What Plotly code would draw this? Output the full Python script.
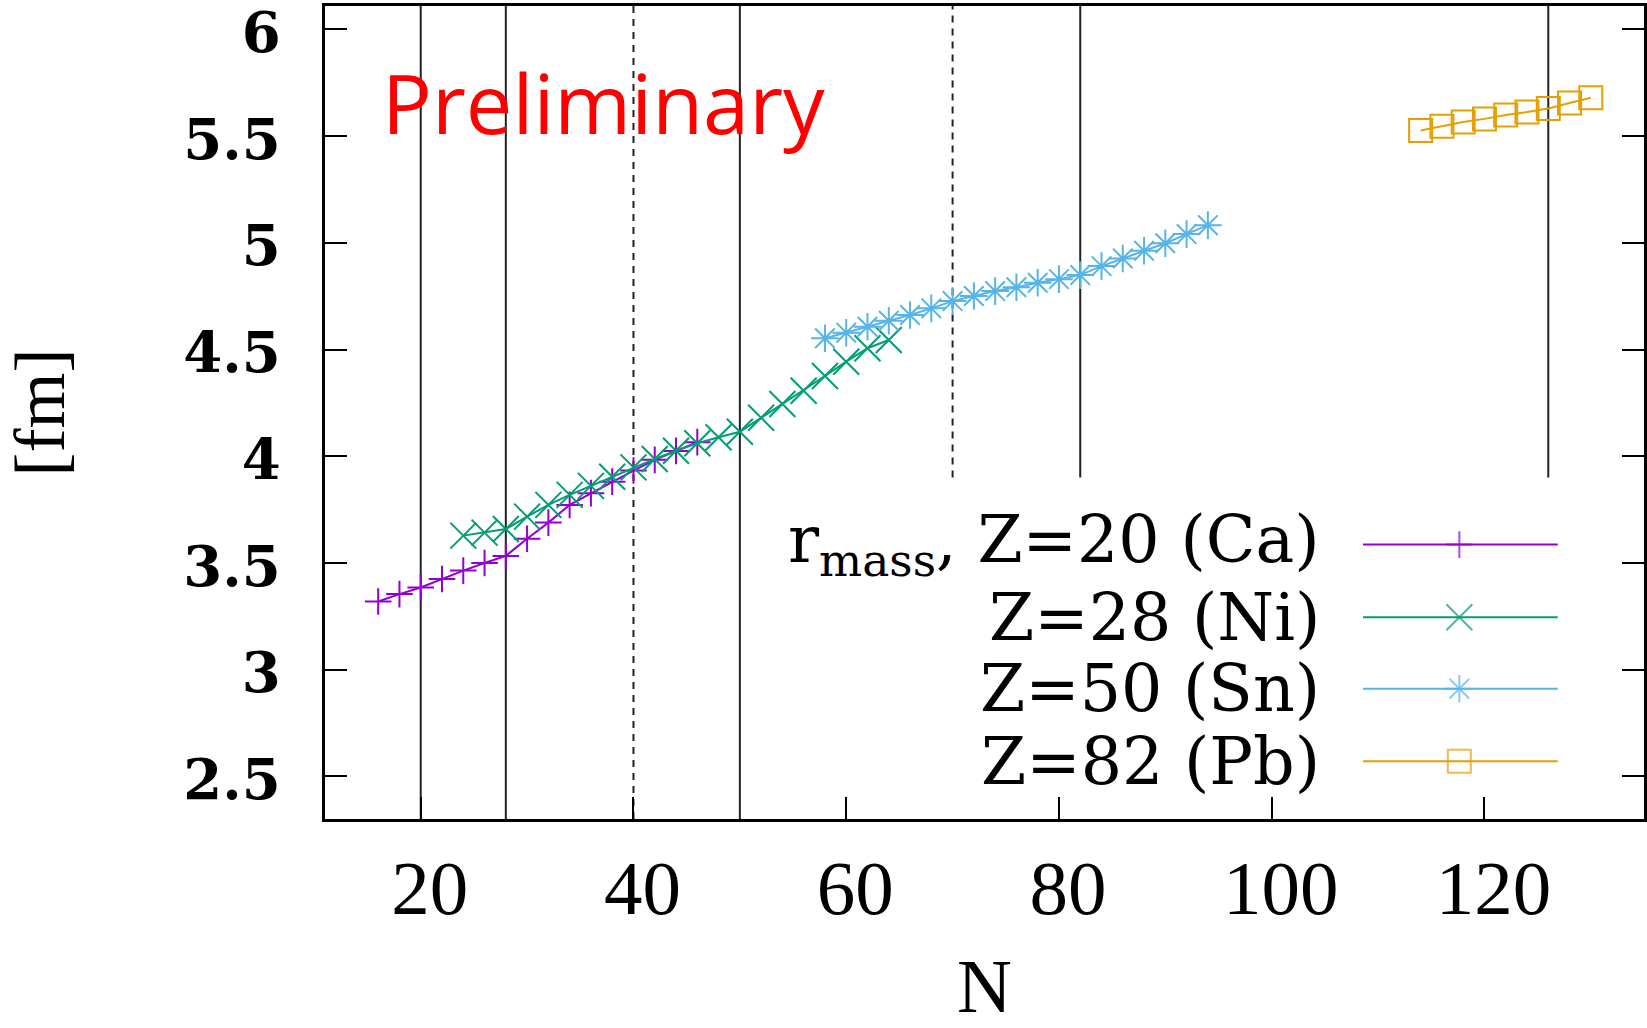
import plotly.graph_objects as go

# ---------------- data ----------------
N_CA = [16, 18, 20, 22, 24, 26, 28, 30, 32, 34, 36, 38, 40, 42, 44, 46]
R_CA = [3.319, 3.354, 3.385, 3.425, 3.464, 3.500, 3.533, 3.613, 3.689, 3.772,
        3.827, 3.881, 3.933, 3.983, 4.025, 4.066]

N_NI = [24, 26, 28, 30, 32, 34, 36, 38, 40, 42, 44, 46, 48, 50, 52, 54, 56, 58,
        60, 62, 64]
R_NI = [3.628, 3.642, 3.659, 3.717, 3.772, 3.819, 3.861, 3.904, 3.948, 3.987,
        4.026, 4.061, 4.089, 4.115, 4.180, 4.245, 4.307, 4.376, 4.443, 4.506,
        4.545]

N_SN = [58, 60, 62, 64, 66, 68, 70, 72, 74, 76, 78, 80, 82, 84, 86, 88, 90, 92, 94]
R_SN = [4.553, 4.579, 4.607, 4.635, 4.662, 4.693, 4.727, 4.751, 4.774, 4.792,
        4.813, 4.830, 4.849, 4.891, 4.927, 4.963, 4.998, 5.041, 5.083]

N_PB = [114, 116, 118, 120, 122, 124, 126, 128, 130]
R_PB = [5.527, 5.546, 5.566, 5.581, 5.599, 5.613, 5.630, 5.655, 5.680]

SERIES_NAMES = ["r<sub>mass</sub>, Z=20 (Ca)", "Z=28 (Ni)", "Z=50 (Sn)", "Z=82 (Pb)"]

X_TICKS = [20, 40, 60, 80, 100, 120]
X_TICK_LABELS = ["20", "40", "60", "80", "100", "120"]
Y_TICKS = [2.5, 3, 3.5, 4, 4.5, 5, 5.5, 6]
Y_TICK_LABELS = ["2.5", "3", "3.5", "4", "4.5", "5", "5.5", "6"]

MAGIC_FULL = [20, 28, 50]       # solid lines, full height
MAGIC_PART = [82, 126]          # solid lines, stopping above the key
DASHED_FULL = [40]
DASHED_PART = [70]

# ---------------- style ----------------
X_RANGE = [11, 135]
Y_RANGE = [2.3, 6.11]
PART_LINE_BOTTOM = 3.9

COLORS = ["#9400D3", "#009E73", "#56B4E9", "#E69F00"]
SYMBOLS = ["cross-thin", "x-thin", "asterisk", "square-open"]
SIZES = [19, 26, 23, 23]

xs = [N_CA, N_NI, N_SN, N_PB]
ys = [R_CA, R_NI, R_SN, R_PB]

fig = go.Figure()
for x, y, c, s, sz, name in zip(xs, ys, COLORS, SYMBOLS, SIZES, SERIES_NAMES):
    fig.add_trace(go.Scatter(
        x=x, y=y, mode="lines+markers", name=name, showlegend=False,
        line=dict(color=c, width=2),
        marker=dict(symbol=s, size=sz, color=c, line=dict(color=c, width=2)),
    ))

# manual key (symbols on the right of the text, as in the original)
KEY_X = [0.787, 0.860, 0.9346]
KEY_Y = [0.3375, 0.2482, 0.1603, 0.0710]
TEXT_X = 0.756
for c, s, sz, name, ky in zip(COLORS, SYMBOLS, SIZES, SERIES_NAMES, KEY_Y):
    fig.add_trace(go.Scatter(
        x=KEY_X, y=[ky] * 3, xaxis="x2", yaxis="y2", mode="lines+markers",
        showlegend=False, hoverinfo="skip",
        line=dict(color=c, width=2),
        marker=dict(symbol=s, size=[0, sz, 0], color=c, line=dict(color=c, width=2)),
    ))
    fig.add_annotation(
        x=TEXT_X, y=ky, xref="paper", yref="paper", xanchor="right", yanchor="middle",
        text=name, showarrow=False,
        font=dict(family="DejaVu Serif", size=65, color="black"),
    )

# vertical reference lines
for v in MAGIC_FULL:
    fig.add_shape(type="line", x0=v, x1=v, y0=Y_RANGE[0], y1=Y_RANGE[1],
                  xref="x", yref="y", line=dict(color="#222222", width=2), layer="below")
for v in MAGIC_PART:
    fig.add_shape(type="line", x0=v, x1=v, y0=PART_LINE_BOTTOM, y1=Y_RANGE[1],
                  xref="x", yref="y", line=dict(color="#222222", width=2), layer="below")
for v in DASHED_FULL:
    fig.add_shape(type="line", x0=v, x1=v, y0=Y_RANGE[0], y1=Y_RANGE[1],
                  xref="x", yref="y", line=dict(color="#222222", width=2, dash="7px,6px"),
                  layer="below")
for v in DASHED_PART:
    fig.add_shape(type="line", x0=v, x1=v, y0=PART_LINE_BOTTOM, y1=Y_RANGE[1],
                  xref="x", yref="y", line=dict(color="#222222", width=2, dash="7px,6px"),
                  layer="below")

fig.add_annotation(
    x=0.0419, y=0.883, xref="paper", yref="paper", xanchor="left", yanchor="middle",
    text="Preliminary", showarrow=False,
    font=dict(family="Open Sans", size=83, color="#FF0000"),
)

fig.update_layout(
    width=1647, height=1028,
    margin=dict(l=325, r=3, t=6, b=209, autoexpand=False),
    paper_bgcolor="white", plot_bgcolor="white",
    xaxis=dict(
        range=X_RANGE, tickvals=X_TICKS, ticktext=X_TICK_LABELS,
        ticks="inside", ticklen=22, tickwidth=1.5, tickcolor="black",
        showline=True, linewidth=3, linecolor="black", mirror=True,
        showgrid=False, zeroline=False, ticklabelstandoff=0, ticklabelshift=9,
        ticklabeloverflow="allow",
        tickfont=dict(family="Liberation Serif", size=77, color="black"),
        title=dict(text="N", standoff=52,
                   font=dict(family="Liberation Serif", size=76, color="black")),
        automargin=False,
    ),
    yaxis=dict(
        range=Y_RANGE, tickvals=Y_TICKS, ticktext=Y_TICK_LABELS,
        ticks="inside", ticklen=22, tickwidth=1.5, tickcolor="black",
        showline=True, linewidth=3, linecolor="black", mirror="ticks",
        showgrid=False, zeroline=False, ticklabelstandoff=30, ticklabelshift=3,
        ticklabeloverflow="allow",
        tickfont=dict(family="DejaVu Serif", size=56, color="black", weight="bold"),
        title=dict(text="[fm]", standoff=108,
                   font=dict(family="Liberation Serif", size=72, color="black")),
        automargin=False,
    ),
    xaxis2=dict(overlaying="x", range=[0, 1], visible=False, fixedrange=True),
    yaxis2=dict(overlaying="y", range=[0, 1], visible=False, fixedrange=True),
)

fig.write_html("out.html", config={"displayModeBar": False},
               post_script="document.body.style.margin='0px';")
